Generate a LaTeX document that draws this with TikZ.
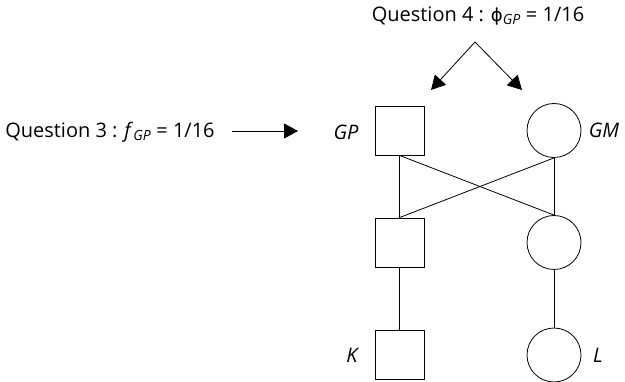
\documentclass[tikz,border=0pt]{standalone}
\usepackage{fontspec}
\setmainfont{Open Sans}
\newfontfamily\phifont{DejaVu Sans}
\usetikzlibrary{arrows.meta}

\begin{document}
\begin{tikzpicture}[
      x=1pt, y=-1pt,
      line width=0.8pt,
      male/.style={draw, rectangle, minimum size=49pt, inner sep=0pt},
      female/.style={draw, circle, minimum size=54pt, inner sep=0pt},
      txt/.style={inner sep=0pt, font=\fontsize{20}{24}\selectfont},
      tag/.style={inner sep=0pt, font=\fontsize{20}{24}\selectfont\itshape},
      arr/.style={-{Triangle[length=14pt, width=15pt]}}
    ]
    \useasboundingbox (0, 0) rectangle (625, 382);

    % Questions
    \node [txt] (q3) at (110, 132) {Question 3 : \textit{f}\textsubscript{\textit{GP}} = 1/16};
    \node [txt] (q4) at (478, 16) {Question 4 : {\phifont\fontsize{18}{22}\selectfont ϕ}\textsubscript{\textit{GP}} = 1/16};

    % Pedigree
    \node [male] (gp) at (399.5, 130.5) {};
    \node [female] (gm) at (554, 130.5) {};
    \node [male] (father) at (399.5, 242.5) {};
    \node [female] (mother) at (554, 242.5) {};
    \node [male] (k) at (399.5, 354.5) {};
    \node [female] (l) at (554, 355) {};

    % Names
    \node [tag] (gpname) at (346, 132) {GP};
    \node [tag] (gmname) at (604, 130) {GM};
    \node [tag] (kname) at (352, 355) {K};
    \node [tag] (lname) at (598, 355) {L};

    % Lines of descent
    \draw (gp.south) -- (father.north);
    \draw (gp.south) -- (mother.north);
    \draw (gm.south) -- (father.north);
    \draw (gm.south) -- (mother.north);
    \draw (father.south) -- (k.north);
    \draw (mother.south) -- (l.north);

    % Arrows
    \coordinate (q3start) at (232, 131);
    \coordinate (q3end) at (298, 131);
    \coordinate (apex) at (475, 42);
    \coordinate (lefttip) at (431, 90);
    \coordinate (righttip) at (522, 90);
    \draw [arr] (q3start) -- (q3end);
    \draw [arr] (apex) -- (lefttip);
    \draw [arr] (apex) -- (righttip);
  \end{tikzpicture}
\end{document}
